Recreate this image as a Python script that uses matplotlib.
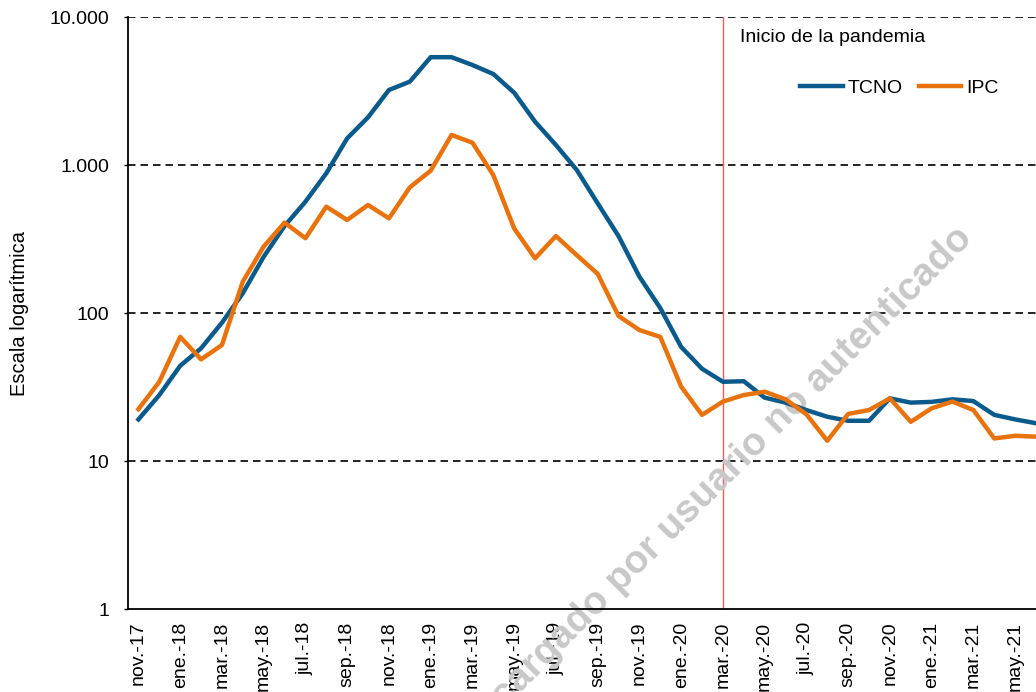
import numpy as np
import matplotlib.pyplot as plt
from matplotlib.ticker import FixedLocator, NullLocator

plt.rcParams['font.family'] = ['Liberation Sans', 'DejaVu Sans']

# meses desde nov-17 hasta jun-21
meses = ['nov.-17', 'dic.-17', 'ene.-18', 'feb.-18', 'mar.-18', 'abr.-18', 'may.-18', 'jun.-18',
         'jul.-18', 'ago.-18', 'sep.-18', 'oct.-18', 'nov.-18', 'dic.-18', 'ene.-19', 'feb.-19',
         'mar.-19', 'abr.-19', 'may.-19', 'jun.-19', 'jul.-19', 'ago.-19', 'sep.-19', 'oct.-19',
         'nov.-19', 'dic.-19', 'ene.-20', 'feb.-20', 'mar.-20', 'abr.-20', 'may.-20', 'jun.-20',
         'jul.-20', 'ago.-20', 'sep.-20', 'oct.-20', 'nov.-20', 'dic.-20', 'ene.-21', 'feb.-21',
         'mar.-21', 'abr.-21', 'may.-21', 'jun.-21']

tcno = [19.1, 27.9, 44, 57.7, 86, 136, 240, 387, 565, 879, 1514, 2100, 3213, 3656, 5350,
        5350, 4740, 4120, 3080, 1963, 1365, 925, 551, 331, 176, 108, 59, 42, 34.3, 34.6,
        26.8, 24.8, 22.1, 19.9, 18.7, 18.7, 26.5, 24.8, 25.1, 26.1, 25.4, 20.5, 19.1, 18.0]

ipc = [22.4, 34.3, 69, 48.6, 60.8, 163, 281, 408, 320, 523, 425, 537, 436, 706, 915,
       1596, 1415, 855, 373, 234, 331, 246, 184, 95.5, 76.7, 69, 31.8, 20.5, 25.2, 27.9,
       29.4, 26.1, 20.7, 13.7, 20.8, 22.1, 26.5, 18.4, 22.7, 25.2, 22.1, 14.2, 14.8, 14.6]

ytick_vals = [1, 10, 100, 1000, 10000]
ytick_lbls = ['1', '10', '100', '1.000', '10.000']

x = np.arange(len(meses))

fig = plt.figure(figsize=(10.36, 6.92), dpi=100)
ax = fig.add_axes([128/1036, 1 - 609/692, (1036 - 128)/1036, (609 - 17)/692])

ax.set_yscale('log')
ax.set_ylim(1, 10000)
ax.set_xlim(-0.5, 43)

for v in ytick_vals[1:]:
    ax.axhline(v, color='black', lw=1.2, ls=(0, (4.5, 3)), zorder=1)

# inicio de la pandemia (mar-20)
ax.axvline(28, color='#ff5a5a', lw=1.0, zorder=1.5)

ax.plot(x, tcno, color='#0b5a8c', lw=3.2, label='TCNO', zorder=3, solid_joinstyle='round')
ax.plot(x, ipc, color='#e8720c', lw=3.2, label='IPC', zorder=3, solid_joinstyle='round')

ax.yaxis.set_major_locator(FixedLocator(ytick_vals))
ax.yaxis.set_minor_locator(NullLocator())
ax.set_yticklabels(ytick_lbls)
ax.tick_params(axis='y', labelsize=14, length=3, width=1, pad=10.5)

ax.set_xticks(x[::2])
ax.set_xticklabels(meses[::2], rotation=90, fontsize=14)
ax.tick_params(axis='x', length=0, pad=9)

ax.set_ylabel('Escala logarítmica', fontsize=14.5)
ax.yaxis.set_label_coords(-0.109, 0.5)

for s in ['top', 'right']:
    ax.spines[s].set_visible(False)
ax.spines['left'].set_linewidth(1.3)
ax.spines['bottom'].set_linewidth(1.3)

ax.text(740/1036, 1 - 37/692, 'Inicio de la pandemia', transform=fig.transFigure,
        fontsize=14, va='center', ha='left')

ax.legend(loc='center left', bbox_to_anchor=(790/1036, 1 - 88/692), bbox_transform=fig.transFigure,
          ncol=2, frameon=False, fontsize=14, handlelength=2.2, handletextpad=0.26,
          columnspacing=0.82, borderpad=0)

ax.text(707/1036, 1 - 493/692, 'Descargado por usuario no autenticado', transform=fig.transFigure,
        fontsize=28, fontweight='bold', color='#c8c8c8', rotation=45, ha='center', va='center',
        rotation_mode='anchor', zorder=2, clip_on=False)

fig.savefig('out.png', dpi=100)
